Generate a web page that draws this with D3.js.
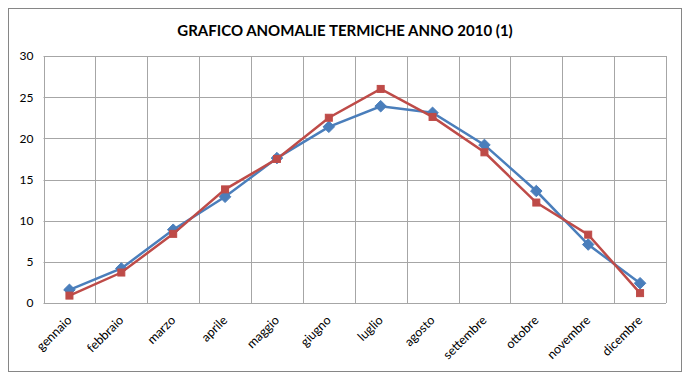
<!DOCTYPE html>
<html>
<head>
<meta charset="utf-8">
<script src="https://cdn.jsdelivr.net/npm/d3@7"></script>
<style>
  body { margin: 0; background: #fff; }
  svg { display: block; font-family: Lato, "Liberation Sans", sans-serif; }
</style>
</head>
<body>
<svg id="chart" width="688" height="382"></svg>
<script>
var mesi = ["gennaio", "febbraio", "marzo", "aprile", "maggio", "giugno",
  "luglio", "agosto", "settembre", "ottobre", "novembre", "dicembre"];
var serieBlu = [1.6, 4.2, 8.9, 12.9, 17.6, 21.4, 23.9, 23.1, 19.2, 13.6, 7.1, 2.4];
var serieRossa = [0.9, 3.7, 8.4, 13.8, 17.5, 22.5, 26.0, 22.6, 18.3, 12.2, 8.3, 1.2];
var yTicks = [0, 5, 10, 15, 20, 25, 30];
var titolo = "GRAFICO ANOMALIE TERMICHE ANNO 2010 (1)";

var svg = d3.select("#chart");
var pLeft = 43.5, pRight = 666, pTop = 56, pBottom = 303;

// chart border
svg.append("rect")
  .attr("x", 8.5).attr("y", 8.5)
  .attr("width", 673).attr("height", 363)
  .attr("fill", "#fff")
  .attr("stroke", "#868686");

svg.append("text")
  .attr("x", 345).attr("y", 36)
  .attr("text-anchor", "middle")
  .attr("font-weight", "bold")
  .attr("font-size", 15)
  .attr("fill", "#000")
  .text(titolo);

var x = d3.scaleBand().domain(mesi).range([pLeft, pRight]);
var y = d3.scaleLinear().domain([0, 30]).range([pBottom, pTop]);

var g = svg.append("g");

// horizontal grid
g.selectAll(".hgrid")
  .data(yTicks)
  .enter().append("line")
  .attr("x1", pLeft).attr("x2", pRight)
  .attr("y1", function(d) { return Math.round(y(d)) + 0.5; })
  .attr("y2", function(d) { return Math.round(y(d)) + 0.5; })
  .attr("stroke", "#a6a6a6");

// vertical grid at category boundaries
var bordi = mesi.map(function(m) { return x(m); }).concat([pRight]);
g.selectAll(".vgrid")
  .data(bordi)
  .enter().append("line")
  .attr("x1", function(d) { return Math.round(d) + 0.5; })
  .attr("x2", function(d) { return Math.round(d) + 0.5; })
  .attr("y1", pTop).attr("y2", pBottom)
  .attr("stroke", "#a6a6a6");

// y axis labels
var yAxis = d3.axisLeft(y).tickValues(yTicks).tickSize(0).tickPadding(10);
svg.append("g")
  .attr("transform", "translate(" + pLeft + ",0)")
  .call(yAxis)
  .call(function(s) { s.select(".domain").remove(); })
  .selectAll("text")
  .attr("font-size", 12)
  .attr("font-family", "Lato, 'Liberation Sans', sans-serif")
  .attr("fill", "#000");

// x axis labels
var xAxis = d3.axisBottom(x).tickSize(0).tickPadding(0);
svg.append("g")
  .attr("transform", "translate(0," + pBottom + ")")
  .call(xAxis)
  .call(function(s) { s.select(".domain").remove(); })
  .selectAll("text")
  .attr("font-size", 12.5)
  .attr("font-family", "Lato, 'Liberation Sans', sans-serif")
  .attr("fill", "#000")
  .attr("text-anchor", "end")
  .attr("dy", 0)
  .attr("transform", "translate(3,18) rotate(-45)");

var cx = function(d, i) { return x(mesi[i]) + x.bandwidth() / 2; };
var linea = d3.line()
  .x(function(d, i) { return x(mesi[i]) + x.bandwidth() / 2; })
  .y(function(d) { return y(d); });

// blue series with diamonds
svg.append("path")
  .datum(serieBlu)
  .attr("d", linea)
  .attr("fill", "none")
  .attr("stroke", "#4a7ebb")
  .attr("stroke-width", 2.5);

svg.selectAll(".diamond")
  .data(serieBlu)
  .enter().append("path")
  .attr("d", d3.symbol().type(d3.symbolDiamond2).size(85))
  .attr("transform", function(d, i) { return "translate(" + cx(d, i) + "," + y(d) + ")"; })
  .attr("fill", "#4a7ebb")
  .attr("stroke", "#4a7ebb");

// red series with squares
svg.append("path")
  .datum(serieRossa)
  .attr("d", linea)
  .attr("fill", "none")
  .attr("stroke", "#be4b48")
  .attr("stroke-width", 2.5);

svg.selectAll(".square")
  .data(serieRossa)
  .enter().append("rect")
  .attr("x", function(d, i) { return cx(d, i) - 3.5; })
  .attr("y", function(d) { return y(d) - 3.5; })
  .attr("width", 7).attr("height", 7)
  .attr("fill", "#be4b48")
  .attr("stroke", "#be4b48");
</script>
</body>
</html>
